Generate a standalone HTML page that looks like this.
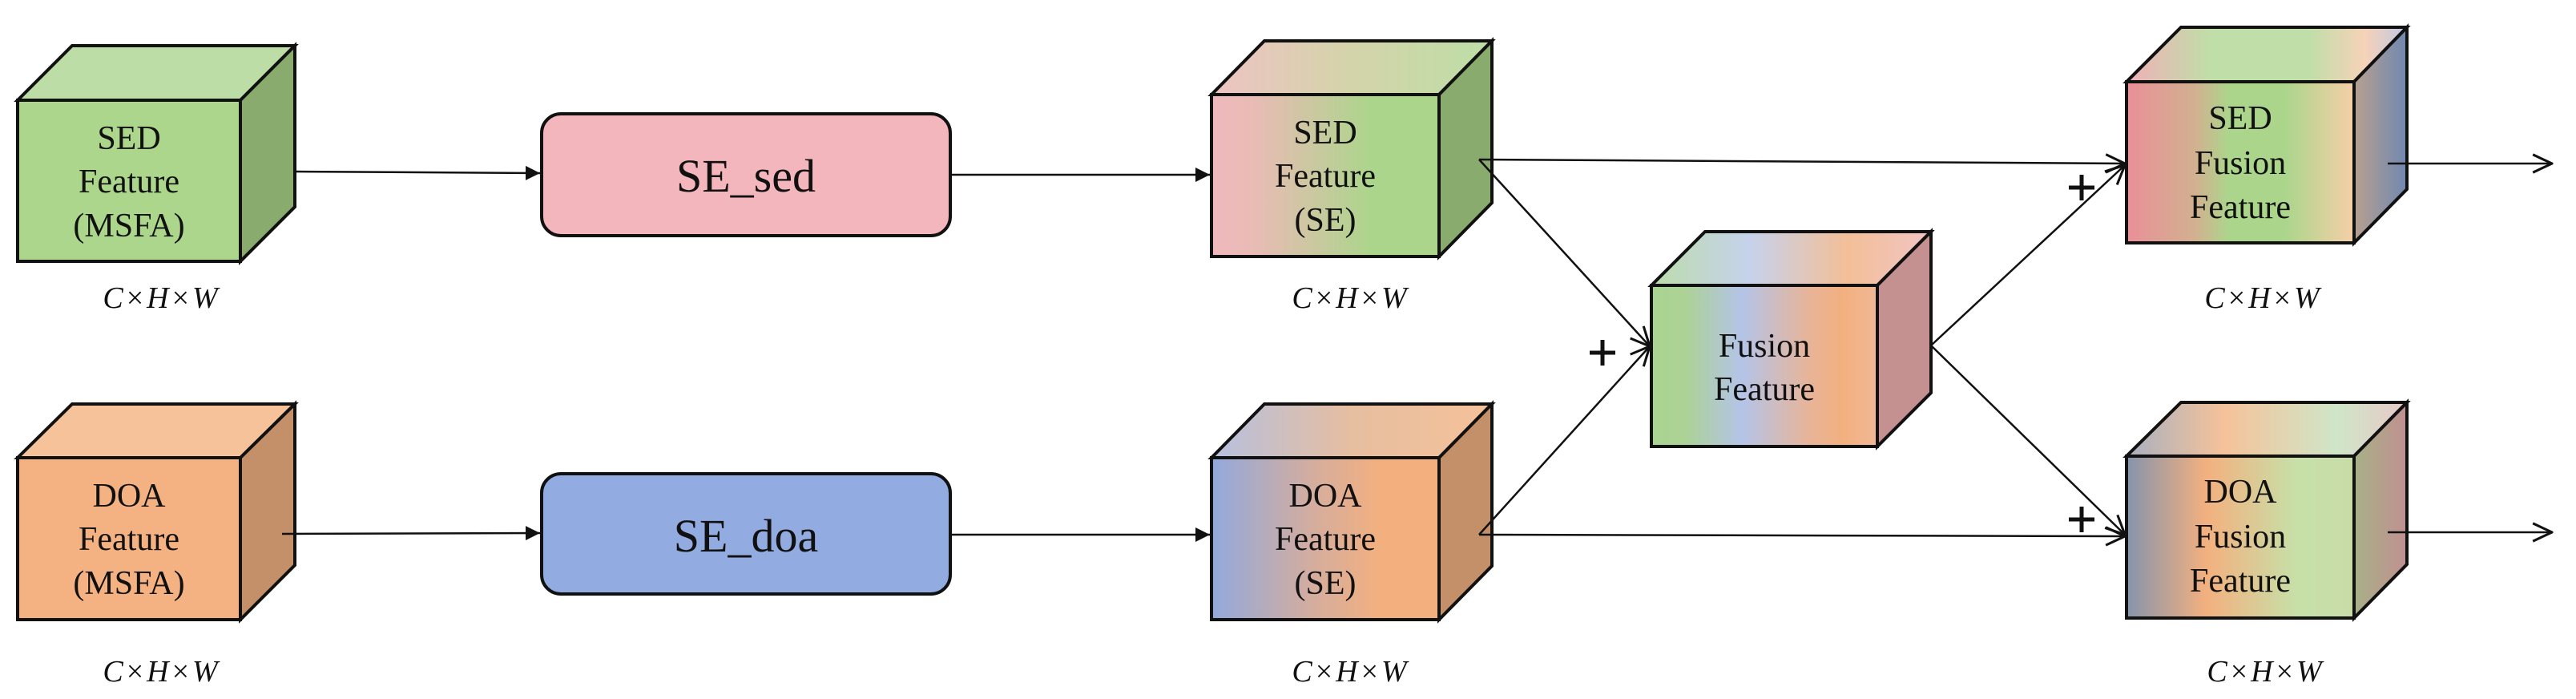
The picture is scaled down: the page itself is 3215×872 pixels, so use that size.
<!DOCTYPE html>
<html><head><meta charset="utf-8"><style>
html,body{margin:0;padding:0;background:#fff;width:3215px;height:872px;overflow:hidden}
text{font-family:"Liberation Serif","Times New Roman",serif;fill:#111}
</style></head><body>
<svg width="3215" height="872" viewBox="0 0 3215 872" xmlns="http://www.w3.org/2000/svg">
<defs>
<linearGradient id="sedF" x1="0" x2="1"><stop offset="0" stop-color="#f0b8bc"/><stop offset="0.2" stop-color="#e8bcb4"/><stop offset="0.7" stop-color="#acd58c"/><stop offset="1" stop-color="#acd58c"/></linearGradient>
<linearGradient id="sedT" x1="0" x2="1"><stop offset="0" stop-color="#eec3c3"/><stop offset="0.5" stop-color="#d4d4aa"/><stop offset="1" stop-color="#bddea6"/></linearGradient>
<linearGradient id="doaF" x1="0" x2="1"><stop offset="0" stop-color="#92a9dc"/><stop offset="0.45" stop-color="#d5ad9e"/><stop offset="0.75" stop-color="#f3b07e"/><stop offset="1" stop-color="#f3b07e"/></linearGradient>
<linearGradient id="doaT" x1="0" x2="1"><stop offset="0" stop-color="#b6c0df"/><stop offset="0.5" stop-color="#e6bea0"/><stop offset="1" stop-color="#f5c29a"/></linearGradient>
<linearGradient id="fuF" x1="0" x2="1"><stop offset="0" stop-color="#a9d491"/><stop offset="0.15" stop-color="#acd295"/><stop offset="0.4" stop-color="#b4c4e8"/><stop offset="0.7" stop-color="#e8b498"/><stop offset="0.85" stop-color="#f3b07f"/><stop offset="1" stop-color="#f0b896"/></linearGradient>
<linearGradient id="fuT" x1="0" x2="1"><stop offset="0" stop-color="#bcdcaa"/><stop offset="0.35" stop-color="#c6d2ec"/><stop offset="0.7" stop-color="#f3bf98"/><stop offset="1" stop-color="#f2c4c4"/></linearGradient>
<linearGradient id="sfF" x1="0" x2="1"><stop offset="0" stop-color="#ea8f98"/><stop offset="0.3" stop-color="#d2b090"/><stop offset="0.45" stop-color="#acd58c"/><stop offset="0.7" stop-color="#acd58c"/><stop offset="1" stop-color="#f6cfa8"/></linearGradient>
<linearGradient id="sfT" x1="0" x2="1"><stop offset="0" stop-color="#f0b0b8"/><stop offset="0.3" stop-color="#c0dea8"/><stop offset="0.65" stop-color="#c0dea8"/><stop offset="0.85" stop-color="#f6d2b8"/><stop offset="1" stop-color="#c0c8e4"/></linearGradient>
<linearGradient id="sfR" x1="0" x2="1"><stop offset="0" stop-color="#b8a090"/><stop offset="1" stop-color="#7088b0"/></linearGradient>
<linearGradient id="dfF" x1="0" x2="1"><stop offset="0" stop-color="#8594ac"/><stop offset="0.35" stop-color="#f3b07f"/><stop offset="0.75" stop-color="#c7e0a8"/><stop offset="1" stop-color="#c8dca8"/></linearGradient>
<linearGradient id="dfT" x1="0" x2="1"><stop offset="0" stop-color="#a8b0c0"/><stop offset="0.35" stop-color="#f5c29a"/><stop offset="0.75" stop-color="#cfe6c8"/><stop offset="1" stop-color="#e8c8c8"/></linearGradient>
<linearGradient id="dfR" x1="0" x2="1"><stop offset="0" stop-color="#a8b088"/><stop offset="1" stop-color="#c09090"/></linearGradient>
<marker id="tri" viewBox="0 0 10 10" refX="10" refY="5" markerWidth="18" markerHeight="18" markerUnits="userSpaceOnUse" orient="auto"><path d="M0,0 L10,5 L0,10 z" fill="#111"/></marker>
<marker id="chev" viewBox="0 0 20 20" refX="19" refY="10" markerWidth="28" markerHeight="28" markerUnits="userSpaceOnUse" orient="auto"><path d="M2,2 L19,10 L2,18" fill="none" stroke="#111" stroke-width="2.2"/></marker>
</defs>

<g stroke="#111" stroke-width="4" stroke-linejoin="miter">
<polygon points="22,125 90,57 368,57 300,125" fill="#bcdea6"/>
<polygon points="300,125 368,57 368,258 300,326" fill="#8aab6e"/>
<rect x="22" y="125" width="278" height="201" fill="#acd68c"/>
<polygon points="22,571 90,504 368,504 300,571" fill="#f5c29a"/>
<polygon points="300,571 368,504 368,705 300,773" fill="#c4906a"/>
<rect x="22" y="571" width="278" height="202" fill="#f4b283"/>
<rect x="676" y="142" width="510" height="152" rx="24" fill="#f3b6bd"/>
<rect x="676" y="591" width="510" height="150" rx="24" fill="#92abe0"/>
<polygon points="1512,118 1578,51 1862,51 1796,118" fill="url(#sedT)"/>
<polygon points="1796,118 1862,51 1862,253 1796,320" fill="#8aab6e"/>
<rect x="1512" y="118" width="284" height="202" fill="url(#sedF)"/>
<polygon points="1512,571 1578,504 1862,504 1796,571" fill="url(#doaT)"/>
<polygon points="1796,571 1862,504 1862,706 1796,773" fill="#c4906a"/>
<rect x="1512" y="571" width="284" height="202" fill="url(#doaF)"/>
<polygon points="2061,356 2128,289 2410,289 2343,356" fill="url(#fuT)"/>
<polygon points="2343,356 2410,289 2410,490 2343,557" fill="#c49090"/>
<rect x="2061" y="356" width="282" height="201" fill="url(#fuF)"/>
<polygon points="2654,102 2722,34 3004,34 2938,102" fill="url(#sfT)"/>
<polygon points="2938,102 3004,34 3004,236 2938,303" fill="url(#sfR)"/>
<rect x="2654" y="102" width="284" height="201" fill="url(#sfF)"/>
<polygon points="2654,569 2722,502 3004,502 2938,569" fill="url(#dfT)"/>
<polygon points="2938,569 3004,502 3004,704 2938,771" fill="url(#dfR)"/>
<rect x="2654" y="569" width="284" height="202" fill="url(#dfF)"/>
</g>

<g stroke="#111" stroke-width="2.5" fill="none">
<line x1="368" y1="214" x2="674" y2="216" marker-end="url(#tri)"/>
<line x1="352" y1="666" x2="674" y2="665" marker-end="url(#tri)"/>
<line x1="1186" y1="218" x2="1510" y2="218" marker-end="url(#tri)"/>
<line x1="1186" y1="667" x2="1510" y2="667" marker-end="url(#tri)"/>
<line x1="1846" y1="199" x2="2652" y2="204" marker-end="url(#chev)"/>
<line x1="1846" y1="199" x2="2059" y2="432" marker-end="url(#chev)"/>
<line x1="1846" y1="667" x2="2059" y2="432" marker-end="url(#chev)"/>
<line x1="1846" y1="667" x2="2652" y2="669" marker-end="url(#chev)"/>
<line x1="2410" y1="431" x2="2652" y2="206" marker-end="url(#chev)"/>
<line x1="2410" y1="431" x2="2652" y2="667" marker-end="url(#chev)"/>
<line x1="2980" y1="204" x2="3185" y2="204" marker-end="url(#chev)"/>
<line x1="2980" y1="664" x2="3185" y2="664" marker-end="url(#chev)"/>
</g>

<g stroke="#111" stroke-width="5">
<line x1="1984" y1="440" x2="2016" y2="440"/><line x1="2000" y1="424" x2="2000" y2="456"/>
<line x1="2582" y1="234" x2="2614" y2="234"/><line x1="2598" y1="218" x2="2598" y2="250"/>
<line x1="2582" y1="648" x2="2614" y2="648"/><line x1="2598" y1="632" x2="2598" y2="664"/>
</g>

<g font-size="42" text-anchor="middle">
<text x="161" y="186">SED</text><text x="161" y="240">Feature</text><text x="161" y="295">(MSFA)</text>
<text x="161" y="632">DOA</text><text x="161" y="686">Feature</text><text x="161" y="741">(MSFA)</text>
<text x="1654" y="179">SED</text><text x="1654" y="233">Feature</text><text x="1654" y="288">(SE)</text>
<text x="1654" y="632">DOA</text><text x="1654" y="686">Feature</text><text x="1654" y="741">(SE)</text>
<text x="2202" y="445">Fusion</text><text x="2202" y="499">Feature</text>
<text x="2796" y="161">SED</text><text x="2796" y="217">Fusion</text><text x="2796" y="272">Feature</text>
<text x="2796" y="627">DOA</text><text x="2796" y="683">Fusion</text><text x="2796" y="738">Feature</text>
</g>
<g font-size="58" text-anchor="middle">
<text x="931" y="239">SE_sed</text>
<text x="931" y="688">SE_doa</text>
</g>
<g font-size="38" font-style="italic" text-anchor="middle">
<text x="200" y="384">C<tspan font-style="normal" dx="4">×</tspan><tspan dx="4">H</tspan><tspan font-style="normal" dx="4">×</tspan><tspan dx="4">W</tspan></text>
<text x="200" y="850">C<tspan font-style="normal" dx="4">×</tspan><tspan dx="4">H</tspan><tspan font-style="normal" dx="4">×</tspan><tspan dx="4">W</tspan></text>
<text x="1684" y="384">C<tspan font-style="normal" dx="4">×</tspan><tspan dx="4">H</tspan><tspan font-style="normal" dx="4">×</tspan><tspan dx="4">W</tspan></text>
<text x="1684" y="850">C<tspan font-style="normal" dx="4">×</tspan><tspan dx="4">H</tspan><tspan font-style="normal" dx="4">×</tspan><tspan dx="4">W</tspan></text>
<text x="2823" y="384">C<tspan font-style="normal" dx="4">×</tspan><tspan dx="4">H</tspan><tspan font-style="normal" dx="4">×</tspan><tspan dx="4">W</tspan></text>
<text x="2826" y="850">C<tspan font-style="normal" dx="4">×</tspan><tspan dx="4">H</tspan><tspan font-style="normal" dx="4">×</tspan><tspan dx="4">W</tspan></text>
</g>
</svg>
</body></html>
